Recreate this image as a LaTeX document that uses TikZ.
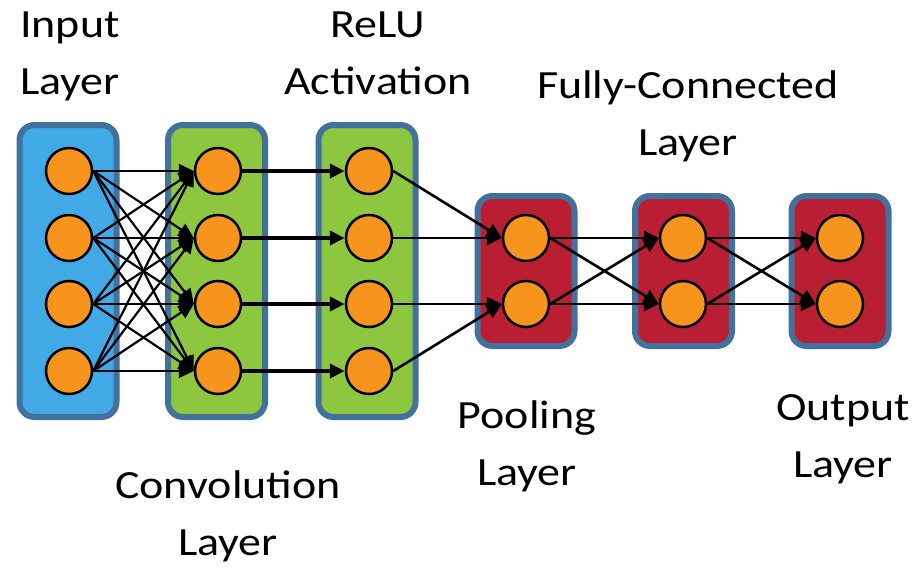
\documentclass[tikz,border=0pt]{standalone}
\usepackage{fontspec}
\setmainfont{Carlito}[FakeStretch=1.15]
\usetikzlibrary{arrows.meta}

\definecolor{layerblue}{RGB}{65,169,230}
\definecolor{layergreen}{RGB}{141,198,63}
\definecolor{layerred}{RGB}{186,30,50}
\definecolor{layeredge}{RGB}{65,113,156}
\definecolor{neuronorange}{RGB}{247,148,30}

\tikzset{
	layer/.style={draw=layeredge, line width=3pt, rounded corners=7.5pt, minimum width=48.5pt},
	neuron/.style={circle, draw, fill=neuronorange, line width=1.25pt, minimum size=23pt, inner sep=0pt},
	link/.style={-{Triangle[length=7.5pt,width=7pt]}, line width=1.1pt},
	layertext/.style={align=center, font=\fontsize{20}{28.5}\selectfont, anchor=base, inner sep=0pt}
}

\begin{document}
\begin{tikzpicture}[x=0.5pt, y=-0.5pt]
		\useasboundingbox (0,0) rectangle (923,570);

		% layer boxes
		\node[layer, fill=layerblue, minimum height=146pt] (inbox) at (68,271) {};
		\node[layer, fill=layergreen, minimum height=146pt] (convbox) at (216.5,271) {};
		\node[layer, fill=layergreen, minimum height=146pt] (relubox) at (367,271) {};
		\node[layer, fill=layerred, minimum height=75pt] (poolbox) at (526,271) {};
		\node[layer, fill=layerred, minimum height=75pt] (fcbox) at (683.5,271) {};
		\node[layer, fill=layerred, minimum height=75pt] (outbox) at (840,271) {};

		% neurons
		\foreach \i/\y in {1/171,2/238,3/304,4/371} {
			\node[neuron] (in\i) at (69,\y) {};
			\node[neuron] (conv\i) at (218,\y) {};
			\node[neuron] (relu\i) at (369,\y) {};
		}
		\foreach \i/\y in {1/238,2/304} {
			\node[neuron] (pool\i) at (526,\y) {};
			\node[neuron] (fc\i) at (683,\y) {};
			\node[neuron] (out\i) at (840,\y) {};
		}

		% connections
		\foreach \i in {1,...,4}
			\foreach \j in {1,...,4}
				\draw[link] (in\i.east) -- (conv\j.west);
		\foreach \i in {1,...,4}
			\draw[link, line width=2pt] (conv\i.east) -- (relu\i.west);
		\draw[link, line width=1.3pt] (relu1.east) -- (pool1.west);
		\draw[link, line width=1.3pt] (relu2.east) -- (pool1.west);
		\draw[link, line width=1.3pt] (relu3.east) -- (pool2.west);
		\draw[link, line width=1.3pt] (relu4.east) -- (pool2.west);
		\foreach \i in {1,2}
			\foreach \j in {1,2} {
				\draw[link, line width=1.3pt] (pool\i.east) -- (fc\j.west);
				\draw[link, line width=1.3pt] (fc\i.east) -- (out\j.west);
			}

		% labels (anchor is the baseline of the last line)
		\node[layertext] (intext) at (70,94) {Input\\Layer};
		\node[layertext] (convtext) at (228,555) {Convolution\\Layer};
		\node[layertext] (relutext) at (378,94) {ReLU\\Activation};
		\node[layertext] (pooltext) at (527,485) {Pooling\\Layer};
		\node[layertext] (fctext) at (688,155) {Fully-Connected\\Layer};
		\node[layertext] (outtext) at (843,477) {Output\\Layer};
	\end{tikzpicture}
\end{document}
